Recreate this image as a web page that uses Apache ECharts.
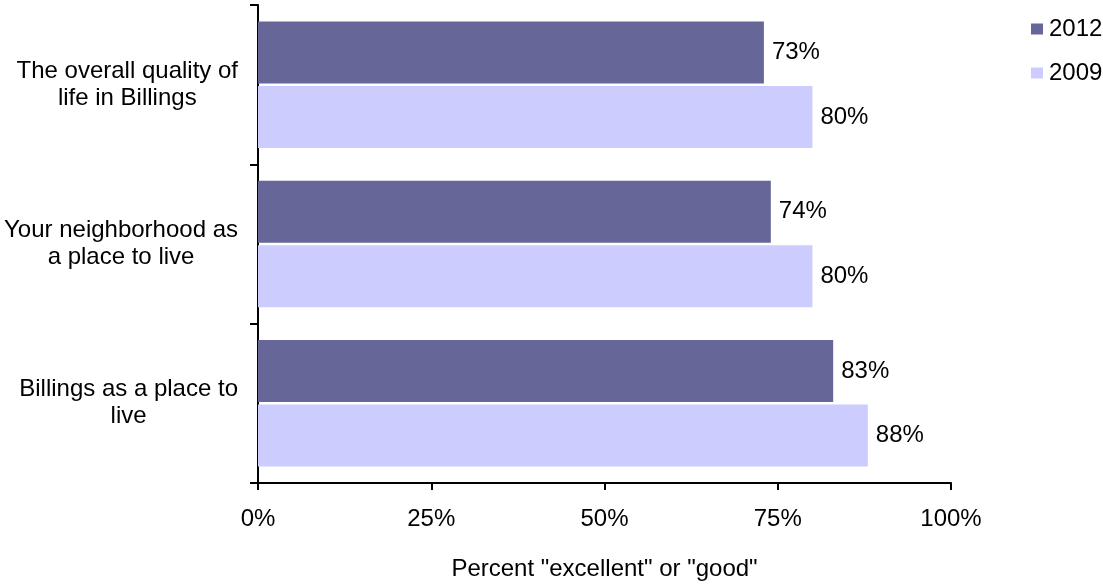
<!DOCTYPE html>
<html>
<head>
<meta charset="utf-8">
<script src="https://cdn.jsdelivr.net/npm/echarts@6/dist/echarts.min.js"></script>
<style>
html,body{margin:0;padding:0;background:#fff;}
#chart{width:1103px;height:586px;}
</style>
</head>
<body>
<div id="chart"></div>
<script>
const categories = ['The overall quality of\nlife in Billings', 'Your neighborhood as\na place to live', 'Billings as a place to\nlive'];
const seriesNames = ['2012', '2009'];
const values2012 = [73, 74, 83];
const values2009 = [80, 80, 88];
const xTicks = [0, 25, 50, 75, 100];
const axisTitle = 'Percent "excellent" or "good"';

const FONT = '"Liberation Sans", Arial, sans-serif';
const FS = 24;
const chart = echarts.init(document.getElementById('chart'), null, {renderer: 'canvas'});

const labelStyle = {
  show: true, position: 'right', distance: 8,
  formatter: p => p.value + '%',
  color: '#000', fontSize: FS, fontFamily: FONT
};

chart.setOption({
  animation: false,
  backgroundColor: '#fff',
  textStyle: {fontFamily: FONT},
  grid: {left: 258, right: 152, top: 5, bottom: 97, containLabel: false},
  legend: {
    orient: 'vertical', left: 1026, top: 12,
    itemWidth: 12, itemHeight: 11, itemGap: 20,
    icon: 'rect',
    textStyle: {color: '#000', fontSize: FS, lineHeight: 24, fontFamily: FONT, padding: [0, 0, 0, 1]},
    data: seriesNames
  },
  xAxis: {
    type: 'value', min: xTicks[0], max: xTicks[xTicks.length - 1], interval: 25,
    axisLine: {show: true, lineStyle: {color: '#000', width: 2}},
    axisTick: {show: true, length: 7, lineStyle: {color: '#000', width: 2}},
    splitLine: {show: false},
    axisLabel: {formatter: '{value}%', color: '#000', fontSize: FS, fontFamily: FONT, margin: 24},
    name: axisTitle, nameLocation: 'middle', nameGap: 74,
    nameTextStyle: {color: '#000', fontSize: FS, fontFamily: FONT}
  },
  yAxis: {
    type: 'category', data: categories, inverse: true,
    axisLine: {show: true, lineStyle: {color: '#000', width: 2}},
    axisTick: {show: true, length: 8, lineStyle: {color: '#000', width: 2}},
    axisLabel: {
      margin: 20, color: '#000',
      formatter: v => v.split('\n').map(l => '{c|' + l + '}').join('\n'),
      rich: {c: {align: 'center', fontSize: FS, lineHeight: 27, fontFamily: FONT, color: '#000'}}
    }
  },
  series: [
    {name: seriesNames[0], type: 'bar', data: values2012, barWidth: 62, barGap: '4%',
     itemStyle: {color: '#666699'}, label: labelStyle},
    {name: seriesNames[1], type: 'bar', data: values2009, barWidth: 62, barGap: '4%',
     itemStyle: {color: '#CCCCFF'}, label: labelStyle}
  ]
});
</script>
</body>
</html>
